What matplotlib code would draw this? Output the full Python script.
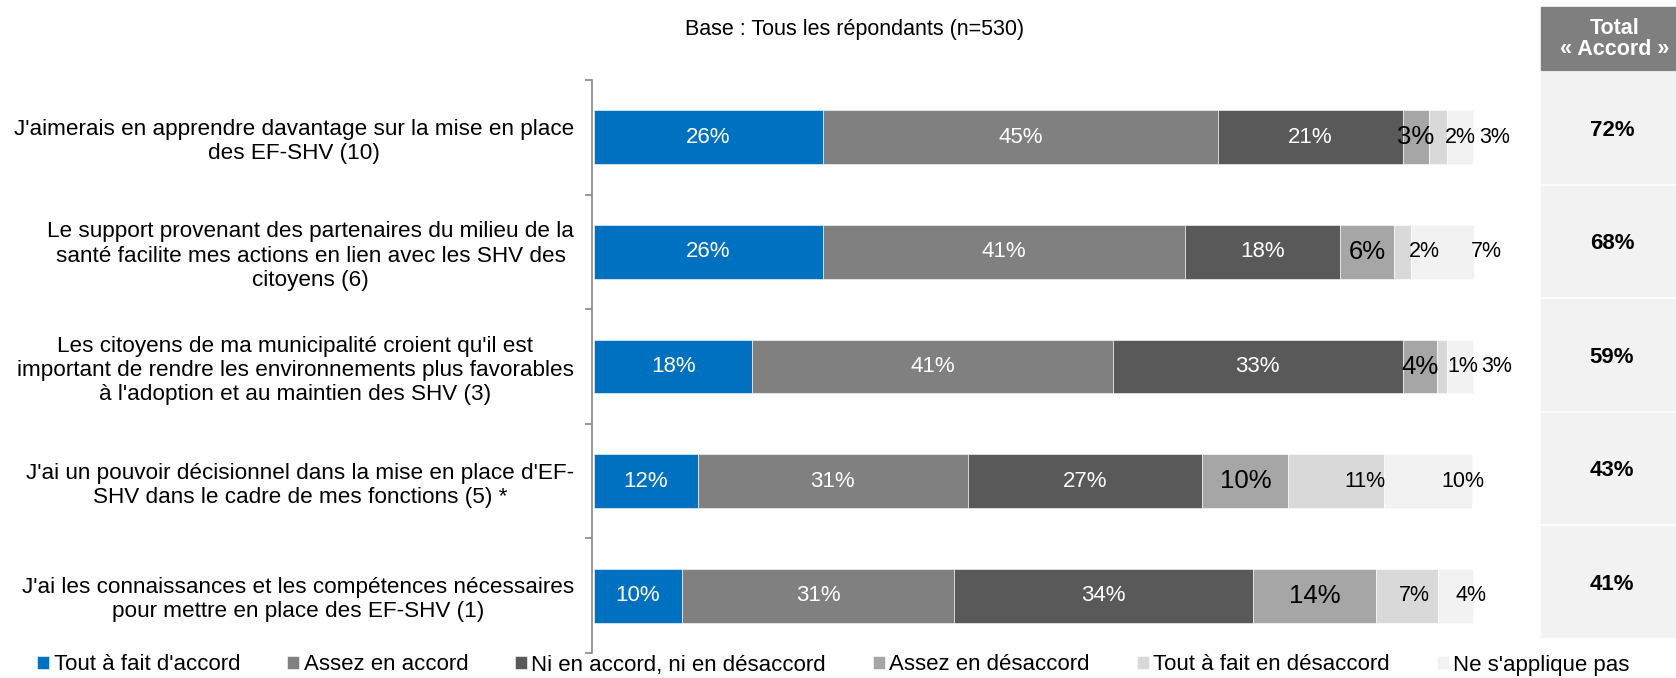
import numpy as np
import matplotlib.pyplot as plt
from matplotlib.patches import Rectangle

plt.rcParams['font.family'] = ['Liberation Sans', 'DejaVu Sans']

# ---- data ----
statements = [
    "J'aimerais en apprendre davantage sur la mise en place\ndes EF-SHV (10)",
    "Le support provenant des partenaires du milieu de la\nsanté facilite mes actions en lien avec les SHV des\ncitoyens (6)",
    "Les citoyens de ma municipalité croient qu'il est\nimportant de rendre les environnements plus favorables\nà l'adoption et au maintien des SHV (3)",
    "J'ai un pouvoir décisionnel dans la mise en place d'EF-\nSHV dans le cadre de mes fonctions (5) *",
    "J'ai les connaissances et les compétences nécessaires\npour mettre en place des EF-SHV (1)",
]
answer_labels = ["Tout à fait d'accord", "Assez en accord", "Ni en accord, ni en désaccord",
                 "Assez en désaccord", "Tout à fait en désaccord", "Ne s'applique pas"]

tout_a_fait_accord = [26, 26, 18, 11.8, 10]
assez_accord = [45, 41.2, 41, 30.7, 31]
ni_ni = [21, 17.7, 33, 26.7, 34]
assez_desaccord = [3, 6.1, 3.9, 9.8, 14]
tout_a_fait_desaccord = [2, 1.9, 1.1, 10.9, 7]
ne_s_applique_pas = [3, 7.2, 3, 10.0, 4]

total_accord = [72, 68, 59, 43, 41]

title = "Base : Tous les répondants (n=530)"

# ---- styling ----
colors = ['#0070C0', '#808080', '#595959', '#A6A6A6', '#D9D9D9', '#F2F2F2']
text_colors = ['white', 'white', 'white', 'black', 'black', 'black']
label_sizes = [16, 16, 16, 18.5, 15.5, 15.5]
# horizontal nudge of the value labels of the two last answers (in % units)
label_shift = {4: [2.6, 2.5, 2.4, 3.2, 0.8], 5: [4.0, 5.0, 4.2, 3.9, 1.8]}

W, H = 1676, 678


def fx(px):
    return px / W


def fy(py):
    return 1 - py / H


def main():
    series = [tout_a_fait_accord, assez_accord, ni_ni, assez_desaccord,
              tout_a_fait_desaccord, ne_s_applique_pas]
    n = len(statements)
    y = np.arange(n)

    fig = plt.figure(figsize=(W / 100, H / 100), dpi=100)
    ax = fig.add_axes([fx(592), fy(653), fx(1530) - fx(592), fy(80) - fy(653)])

    px_per_pct = 8.79
    ax.set_xlim(-2 / px_per_pct, (1530 - 594) / px_per_pct)
    ax.set_ylim(n - 0.5, -0.5)

    left = np.zeros(n)
    handles = []
    for k, (vals, col) in enumerate(zip(series, colors)):
        vals = np.array(vals, dtype=float)
        bars = ax.barh(y, vals, left=left, height=0.47, color=col,
                       edgecolor='white', linewidth=0.4, label=answer_labels[k])
        handles.append(bars)
        for i in range(n):
            cx = left[i] + vals[i] / 2
            if k in label_shift:
                cx += label_shift[k][i]
            ax.text(cx, y[i], f"{round(vals[i]):.0f}%", ha='center', va='center',
                    color=text_colors[k], fontsize=label_sizes[k])
        left += vals

    # axis styling
    for s in ['top', 'right', 'bottom']:
        ax.spines[s].set_visible(False)
    ax.spines['left'].set_color('#888888')
    ax.spines['left'].set_linewidth(1.2)
    ax.set_xticks([])
    ax.set_yticks(np.arange(n + 1) - 0.5)
    ax.set_yticklabels([])
    ax.tick_params(axis='y', which='major', length=5, color='#888888', width=1.2)
    ax.set_yticks(y, statements, minor=True)
    ax.tick_params(axis='y', which='minor', length=0, pad=13, labelsize=16.2)
    for lab in ax.get_yticklabels(minor=True):
        lab.set_multialignment('center')
        lab.set_linespacing(1.2)

    fig.text(fx(855), fy(29), title, ha='center', va='center', fontsize=15.5)

    # "Total Accord" side panel
    fig.patches.append(Rectangle((fx(1541), fy(70)), fx(1676) - fx(1541), fy(7) - fy(70),
                                 transform=fig.transFigure, color='#7F7F7F'))
    fig.text(fx(1615), fy(39), "Total\n« Accord »", ha='center', va='center',
             color='white', fontsize=15.5, fontweight='bold', linespacing=1.05)
    cell_top, cell_h, gap = 72, 110.5, 3
    for i, tot in enumerate(total_accord):
        top = cell_top + i * (cell_h + gap)
        fig.patches.append(Rectangle((fx(1541), fy(top + cell_h)), fx(1676) - fx(1541),
                                     fy(top) - fy(top + cell_h),
                                     transform=fig.transFigure, color='#F2F2F2'))
        fig.text(fx(1612), fy(top + cell_h / 2 + 3), f"{tot}%", ha='center', va='center',
                 fontsize=16, fontweight='bold')

    fig.legend(handles=handles, loc='center left', bbox_to_anchor=(fx(37), fy(665)),
               ncol=6, frameon=False, fontsize=16, handlelength=0.55, handleheight=0.55,
               handletextpad=0.2, columnspacing=2.1, borderpad=0, borderaxespad=0)

    fig.savefig('out.png', dpi=100)


if __name__ == "__main__":
    main()
